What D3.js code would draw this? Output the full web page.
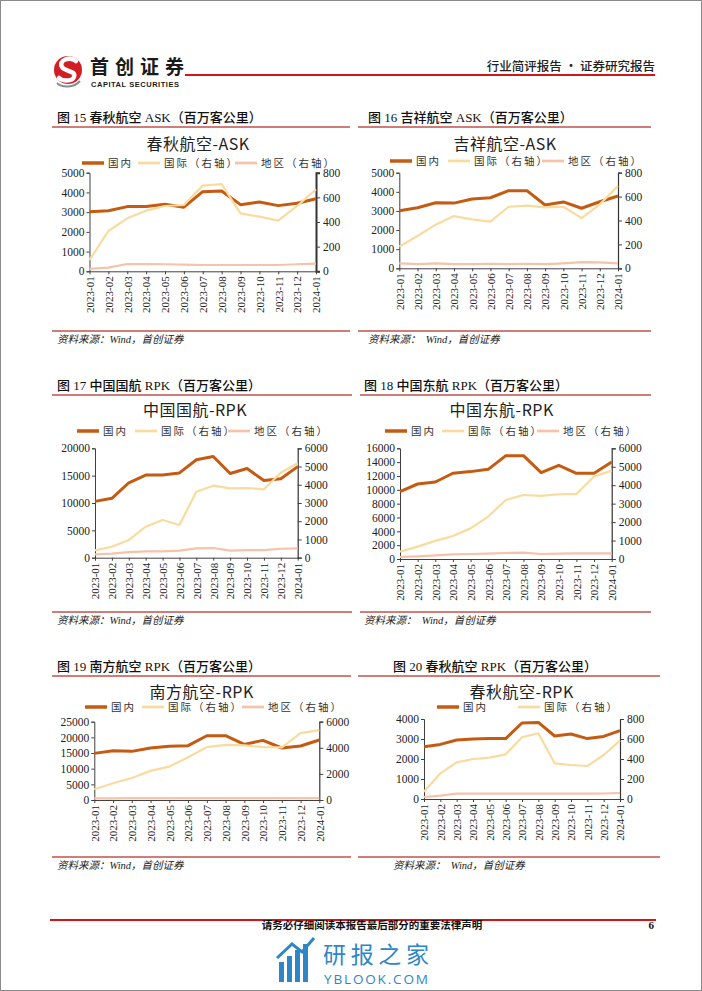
<!DOCTYPE html>
<html><head><meta charset="utf-8">
<script src="https://cdn.jsdelivr.net/npm/d3@7"></script>
<style>
html,body{margin:0;padding:0;background:#fff;}
svg{display:block;}
</style></head>
<body>
<svg id="page" width="702" height="991"></svg>
<script>
// ---------------- DATA ----------------
const months = ["2023-01","2023-02","2023-03","2023-04","2023-05","2023-06","2023-07","2023-08","2023-09","2023-10","2023-11","2023-12","2024-01"];
const seriesNames = ["国内","国际（右轴）","地区（右轴）"];

// 图15 春秋航空 ASK
const c15Dom  = [3020,3070,3280,3290,3400,3250,4040,4070,3380,3510,3330,3450,3680];
const c15Intl = [92,327,430,492,530,538,695,708,470,443,411,530,665];
const c15Reg  = [19,30,59,59,57,54,51,51,51,51,51,57,62];
// 图16 吉祥航空 ASK
const c16Dom  = [3010,3170,3430,3410,3620,3690,4060,4060,3310,3470,3140,3480,3780];
const c16Intl = [181,270,365,437,409,390,515,524,510,515,420,535,688];
const c16Reg  = [42,35,42,35,35,38,35,38,35,42,52,50,42];
// 图17 中国国航 RPK
const c17Dom  = [10300,10850,13700,15100,15100,15500,17900,18500,15400,16300,14100,14450,16650];
const c17Intl = [400,600,970,1700,2070,1790,3620,3950,3800,3820,3750,4660,5180];
const c17Reg  = [180,220,310,350,350,385,510,530,385,420,420,490,510];
// 图18 中国东航 RPK
const c18Dom  = [9750,10840,11130,12390,12630,12960,14940,14940,12480,13540,12390,12390,14020];
const c18Intl = [400,670,980,1250,1660,2300,3200,3470,3420,3510,3530,4470,4790];
const c18Reg  = [110,145,200,250,270,290,325,345,270,290,310,310,310];
// 图19 南方航空 RPK
const c19Dom  = [14890,15740,15530,16600,17130,17340,20530,20530,17770,19040,16600,17230,19150];
const c19Intl = [820,1280,1690,2230,2560,3280,4050,4230,4180,4050,4030,5130,5360];
const c19Reg  = [120,130,140,140,140,140,150,150,140,140,140,150,150];
// 图20 春秋航空 RPK
const c20Dom  = [2617,2730,2950,3000,3030,3020,3800,3830,3150,3250,3020,3130,3420];
const c20Intl = [73,257,367,400,413,447,617,657,357,340,330,440,583];
const c20Reg  = [20,33,53,53,53,53,53,53,53,53,53,55,60];

// tick values
const ticks0to5000 = [0,1000,2000,3000,4000,5000];
const ticks0to800  = [0,200,400,600,800];
const ticks0to20000 = [0,5000,10000,15000,20000];
const ticks0to6000k = [0,1000,2000,3000,4000,5000,6000];
const ticks0to16000 = [0,2000,4000,6000,8000,10000,12000,14000,16000];
const ticks0to25000 = [0,5000,10000,15000,20000,25000];
const ticks0to6000s = [0,2000,4000,6000];
const ticks0to4000 = [0,1000,2000,3000,4000];

// ---------------- STYLE ----------------
const COL_DOM = "#C55A11", COL_INTL = "#F9DB9E", COL_REG = "#F6C2AA";
const CAPRED = "#C0504D";
const FONT = "'Liberation Serif','Noto Sans CJK SC',serif";
const CJK = "'Noto Sans CJK SC','Liberation Serif',sans-serif";

const svg = d3.select("#page");
svg.append("rect").attr("x",0).attr("y",0).attr("width",702).attr("height",991).attr("fill","#fff");
svg.append("rect").attr("x",0.5).attr("y",0.5).attr("width",701).attr("height",990)
  .attr("fill","none").attr("stroke","#8a8a8a").attr("stroke-width",1);

// ---------------- HEADER ----------------
const hdr = svg.append("g");
hdr.append("circle").attr("cx",68).attr("cy",70).attr("r",14).attr("fill","#D21F26");
hdr.append("path").attr("d","M76,61 C70,56 58,60 62,67 C65,72 76,70 74,77 C72,82 62,81 59,78")
  .attr("fill","none").attr("stroke","#fff").attr("stroke-width",4.5).attr("stroke-linecap","round");
hdr.append("path").attr("d","M57,83 C62,88 74,88 80,81").attr("fill","none").attr("stroke","#8c8c8c").attr("stroke-width",2);
hdr.append("text").attr("x",90).attr("y",74).attr("font-family",CJK).attr("font-weight","bold")
  .attr("font-size",19).attr("fill","#1a1a1a").attr("textLength",94).text("首创证券");
hdr.append("text").attr("x",91).attr("y",87).attr("font-family","'Liberation Sans',Arial,sans-serif").attr("font-weight","bold")
  .attr("font-size",7.5).attr("fill","#1a1a1a").attr("textLength",88).text("CAPITAL SECURITIES");
hdr.append("line").attr("x1",185).attr("x2",655).attr("y1",75).attr("y2",75).attr("stroke","#D0151B").attr("stroke-width",2);
hdr.append("text").attr("x",655).attr("y",71).attr("text-anchor","end").attr("font-family",CJK)
  .attr("font-size",12.5).attr("font-weight",500).attr("fill","#222").text("行业简评报告 · 证券研究报告");

// ---------------- CHART FUNCTION ----------------
function drawChart(cfg){
  const g = svg.append("g");
  if (cfg.clip){
    const id = "clip"+cfg.num;
    svg.append("clipPath").attr("id",id).append("rect")
      .attr("x",cfg.clip[0]).attr("y",cfg.clip[1]).attr("width",cfg.clip[2]).attr("height",cfg.clip[3]);
    g.attr("clip-path","url(#"+id+")");
  }
  g.append("text").attr("x",cfg.capX).attr("y",cfg.capY).attr("font-family",FONT)
    .attr("font-size",13).attr("font-weight",500).attr("fill","#111")
    .text(cfg.caption);
  g.append("line").attr("x1",cfg.lineX[0]).attr("x2",cfg.lineX[1]).attr("y1",cfg.capLineY).attr("y2",cfg.capLineY)
    .attr("stroke",CAPRED).attr("stroke-width",1.5);
  g.append("line").attr("x1",cfg.srcLineX[0]).attr("x2",cfg.srcLineX[1]).attr("y1",cfg.srcLineY).attr("y2",cfg.srcLineY)
    .attr("stroke",CAPRED).attr("stroke-width",1.5);
  g.append("text").attr("x",cfg.capX).attr("y",cfg.srcLineY+12).attr("font-family",FONT)
    .attr("font-size",10.5).attr("font-style","italic").attr("fill","#222")
    .attr("xml:space","preserve").text(cfg.source);
  g.append("text").attr("x",cfg.titleX).attr("y",cfg.titleY).attr("text-anchor","middle")
    .attr("dominant-baseline","central").attr("font-family",CJK).attr("font-size",16)
    .attr("letter-spacing",0.5).attr("fill","#222").text(cfg.title);
  cfg.legend.forEach(l=>{
    g.append("line").attr("x1",l.x).attr("x2",l.x+22).attr("y1",cfg.legendY).attr("y2",cfg.legendY)
      .attr("stroke",l.color).attr("stroke-width",l.w+0.5);
    g.append("text").attr("x",l.x+26).attr("y",cfg.legendY).attr("dominant-baseline","central")
      .attr("font-family",FONT).attr("font-size",10.5).attr("letter-spacing",2).attr("fill","#333").text(l.name);
  });
  const x = d3.scalePoint().domain(months).range([cfg.x0,cfg.x1]);
  const yL = d3.scaleLinear().domain([0,cfg.leftTicks[cfg.leftTicks.length-1]]).range([cfg.yBot,cfg.yTop]);
  const yR = d3.scaleLinear().domain([0,cfg.rightTicks[cfg.rightTicks.length-1]]).range([cfg.yBot,cfg.yTop]);
  const axL = g.append("g").attr("transform",`translate(${cfg.x0},0)`)
    .call(d3.axisLeft(yL).tickValues(cfg.leftTicks).tickSize(3).tickSizeOuter(3).tickFormat(d3.format("d")));
  const axR = g.append("g").attr("transform",`translate(${cfg.x1},0)`)
    .call(d3.axisRight(yR).tickValues(cfg.rightTicks).tickSize(4).tickSizeOuter(4).tickFormat(d3.format("d")));
  const axX = g.append("g").attr("transform",`translate(0,${cfg.yBot})`)
    .call(d3.axisBottom(x).tickSize(3).tickSizeOuter(0));
  [axL,axR,axX].forEach(a=>{
    a.selectAll("path").attr("stroke","#404040").attr("stroke-width",1);
    a.selectAll("line").attr("stroke","#404040");
    a.selectAll("text").attr("font-family",FONT).attr("font-size",11.5).attr("fill","#222");
  });
  axR.select("path").attr("stroke-width",cfg.rightW||1.2).attr("stroke","#333");
  axL.selectAll("text").attr("x",-5);
  axR.selectAll("text").attr("x",7);
  axX.selectAll("text").attr("transform","rotate(-90)").attr("text-anchor","end")
    .attr("x",-5).attr("y",0).attr("dy","0.35em").attr("font-size",11);
  const mk = (scale)=> d3.line().x((d,i)=>x(months[i])).y(d=>scale(d));
  cfg.series.forEach(s=>{
    g.append("path").datum(s.values).attr("fill","none").attr("stroke",s.color)
      .attr("stroke-width",s.w).attr("stroke-linejoin","round")
      .attr("d",mk(s.axis==="L"?yL:yR));
  });
}

function S(dom,intl,reg){
  return [
    {values:reg, axis:"R", color:COL_REG, w:2.2},
    {values:dom, axis:"L", color:COL_DOM, w:3},
    {values:intl, axis:"R", color:COL_INTL, w:2.2}
  ];
}
function L(xs){
  const cols=[COL_DOM,COL_INTL,COL_REG], ws=[3,2.2,2.2];
  return xs.map((x,i)=>({x:x,name:seriesNames[i],color:cols[i],w:ws[i]}));
}

const src1 = "资料来源：Wind，首创证券";
const src2 = "资料来源：  Wind，首创证券";

drawChart({num:15, caption:"图 15  春秋航空 ASK（百万客公里）", capX:57, capY:122, capLineY:127, lineX:[52,350],
  srcLineY:331, srcLineX:[52,350], source:src1,
  title:"春秋航空-ASK", titleX:198, titleY:143, legendY:163, legend:L([82,138,235]),
  x0:89.5, x1:316, yTop:172.7, yBot:271.3, leftTicks:ticks0to5000, rightTicks:ticks0to800, rightW:2,
  series:S(c15Dom,c15Intl,c15Reg)});

drawChart({num:16, caption:"图 16  吉祥航空 ASK（百万客公里）", capX:368, capY:122, capLineY:127, lineX:[358,651],
  srcLineY:331, srcLineX:[358,651], source:src2,
  title:"吉祥航空-ASK", titleX:505, titleY:143, legendY:161, legend:L([390,448,542]),
  x0:399.3, x1:618, yTop:172.7, yBot:268.3, leftTicks:ticks0to5000, rightTicks:ticks0to800,
  series:S(c16Dom,c16Intl,c16Reg)});

drawChart({num:17, caption:"图 17  中国国航 RPK（百万客公里）", capX:57, capY:390, capLineY:395, lineX:[52,352],
  srcLineY:612, srcLineX:[52,352], source:src1,
  title:"中国国航-RPK", titleX:195, titleY:409, legendY:431, legend:L([77,135,228]),
  x0:95, x1:297.7, yTop:448.3, yBot:557.7, leftTicks:ticks0to20000, rightTicks:ticks0to6000k,
  series:S(c17Dom,c17Intl,c17Reg)});

drawChart({num:18, caption:"图 18  中国东航 RPK（百万客公里）", capX:364, capY:390, capLineY:395, lineX:[360,651],
  srcLineY:612, srcLineX:[360,651], source:src2,
  title:"中国东航-RPK", titleX:501.7, titleY:409, legendY:431, legend:L([385,442,537]),
  x0:400, x1:611.7, yTop:448.3, yBot:559, leftTicks:ticks0to16000, rightTicks:ticks0to6000k,
  series:S(c18Dom,c18Intl,c18Reg)});

drawChart({num:19, caption:"图 19  南方航空 RPK（百万客公里）", capX:57, capY:671, capLineY:676, lineX:[52,352],
  srcLineY:857, srcLineX:[52,352], source:src1, clip:[0,640,351,240],
  title:"南方航空-RPK", titleX:201.7, titleY:690.7, legendY:707, legend:L([85,142,242]),
  x0:94.3, x1:319.3, yTop:721.7, yBot:800, leftTicks:ticks0to25000, rightTicks:ticks0to6000s,
  series:S(c19Dom,c19Intl,c19Reg)});

drawChart({num:20, caption:"图 20  春秋航空 RPK（百万客公里）", capX:393, capY:671, capLineY:676, lineX:[358,660],
  srcLineY:857, srcLineX:[358,660], source:src2,
  title:"春秋航空-RPK", titleX:521.7, titleY:690.7, legendY:707, legend:L([437,518]),
  x0:424, x1:620, yTop:719, yBot:799, leftTicks:ticks0to4000, rightTicks:ticks0to800,
  series:S(c20Dom,c20Intl,c20Reg)});

// ---------------- FOOTER ----------------
svg.append("line").attr("x1",50).attr("x2",656).attr("y1",920).attr("y2",920).attr("stroke","#D0151B").attr("stroke-width",2);
svg.append("text").attr("x",372).attr("y",929).attr("text-anchor","middle").attr("font-family",CJK)
  .attr("font-size",10.5).attr("font-weight","bold").attr("fill","#111").text("请务必仔细阅读本报告最后部分的重要法律声明");
svg.append("text").attr("x",654).attr("y",929).attr("text-anchor","end").attr("font-family",FONT)
  .attr("font-size",11).attr("font-weight","bold").attr("fill","#111").text("6");
const wm = svg.append("g").attr("fill","#2F86C6");
[[279,962,5,20],[287,956,5,26],[295,950,5,32],[303,944,5,38]].forEach(b=>{
  wm.append("rect").attr("x",b[0]).attr("y",b[1]).attr("width",b[2]).attr("height",b[3]);
});
wm.append("path").attr("d","M277,958 L292,944 L302,952 L314,938").attr("fill","none").attr("stroke","#2F86C6").attr("stroke-width",3);
wm.append("text").attr("x",323).attr("y",963).attr("font-family",CJK).attr("font-size",23).attr("fill","#2F86C6")
  .attr("textLength",106).text("研报之家");
wm.append("text").attr("x",324).attr("y",984).attr("font-family","'Open Sans',sans-serif").attr("font-size",13.5).attr("fill","#2F86C6")
  .attr("textLength",104).text("YBLOOK.COM");
</script>
</body></html>
